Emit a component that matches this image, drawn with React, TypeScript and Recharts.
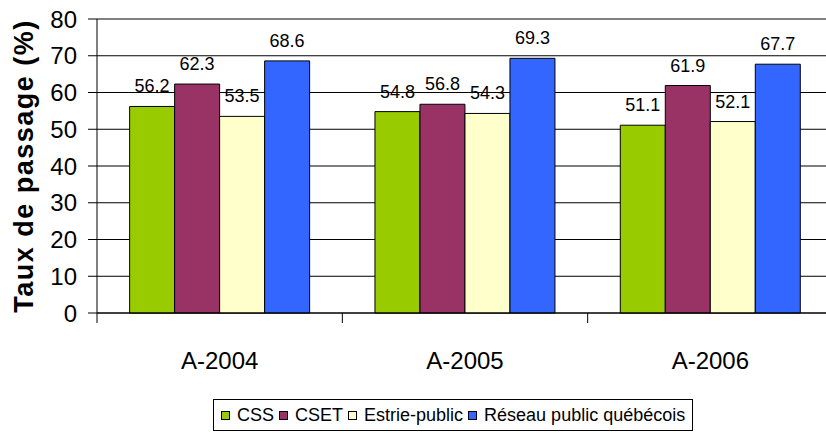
import { BarChart, Bar, XAxis, YAxis, CartesianGrid, ReferenceLine, Legend, LabelList } from "recharts";

const categories = ["A-2004", "A-2005", "A-2006"];
const cssValues = [56.2, 54.8, 51.1];
const csetValues = [62.3, 56.8, 61.9];
const estrieValues = [53.5, 54.3, 52.1];
const reseauValues = [68.6, 69.3, 67.7];
const yTicks = [0, 10, 20, 30, 40, 50, 60, 70, 80];

const series = [
  { key: "css", name: "CSS", color: "#99CC00" },
  { key: "cset", name: "CSET", color: "#993366" },
  { key: "estrie", name: "Estrie-public", color: "#FFFFCC" },
  { key: "reseau", name: "Réseau public québécois", color: "#3366FF" },
];

const data = categories.map((name, i) => ({
  name,
  css: cssValues[i],
  cset: csetValues[i],
  estrie: estrieValues[i],
  reseau: reseauValues[i],
}));

const FONT = "'Liberation Sans', Arial, sans-serif";
const X_TICK_MARGIN = 39;
const BOUNDARY_TICK = 10;

const LegendBox = () => (
  <div
    style={{
      display: "inline-flex",
      alignItems: "center",
      boxSizing: "border-box",
      height: 32,
      border: "1px solid #000",
      padding: "0 7px",
      fontFamily: FONT,
      fontSize: 18,
      color: "#000",
      background: "#fff",
      whiteSpace: "nowrap",
    }}
  >
    {series.map((s, i) => (
      <span key={s.key} style={{ display: "inline-flex", alignItems: "center", marginLeft: i ? 5 : 0 }}>
        <span
          style={{
            width: 7,
            height: 7,
            border: "1px solid #000",
            background: s.color,
            display: "inline-block",
            marginRight: 7,
          }}
        />
        {s.name}
      </span>
    ))}
  </div>
);

const YLabel = ({ viewBox }: any) => {
  const cx = viewBox.x + 24;
  const cy = viewBox.y + viewBox.height / 2;
  return (
    <text
      x={cx}
      y={cy}
      transform={`rotate(-90, ${cx}, ${cy})`}
      textAnchor="middle"
      dominantBaseline="central"
      fontFamily={FONT}
      fontWeight="bold"
      fontSize={27}
      letterSpacing={1.5}
      fill="#000"
    >
      Taux de passage (%)
    </text>
  );
};

// category label plus tick marks on the category boundaries (Excel style)
const CategoryTick = ({ x, y, payload, index, visibleTicksCount }: any) => {
  const half = payload.offset || 0;
  const axisY = y - X_TICK_MARGIN;
  const isLast = index === visibleTicksCount - 1;
  return (
    <g>
      <line x1={x - half} x2={x - half} y1={axisY} y2={axisY + BOUNDARY_TICK} stroke="#000" />
      {isLast && <line x1={x + half} x2={x + half} y1={axisY} y2={axisY + BOUNDARY_TICK} stroke="#000" />}
      <text x={x} y={y} dy="0.71em" textAnchor="middle" fill="#000" fontSize={24} fontFamily={FONT}>
        {payload.value}
      </text>
    </g>
  );
};

export default function App() {
  return (
    <div style={{ position: "absolute", left: 0, top: 0, background: "#fff" }}>
      <BarChart
        width={840}
        height={434}
        data={data}
        margin={{ top: 19, right: 7, left: 0, bottom: 3 }}
        barCategoryGap="13.3%"
        barGap={0}
      >
        <CartesianGrid vertical={false} stroke="#000" strokeWidth={1} />
        <XAxis
          dataKey="name"
          height={86}
          axisLine={{ stroke: "#000" }}
          tickLine={false}
          tickSize={0}
          tickMargin={X_TICK_MARGIN}
          interval={0}
          tick={<CategoryTick />}
        />
        <YAxis
          width={97}
          domain={[0, 80]}
          ticks={yTicks}
          interval={0}
          axisLine={{ stroke: "#000" }}
          tickLine={{ stroke: "#000" }}
          tickSize={9}
          tickMargin={11}
          tick={{ fill: "#000", fontSize: 24, fontFamily: FONT }}
          label={<YLabel />}
        />
        <ReferenceLine y={80} stroke="#808080" strokeWidth={2} />
        {series.map((s) => (
          <Bar
            key={s.key}
            dataKey={s.key}
            name={s.name}
            fill={s.color}
            stroke="#000"
            strokeWidth={1}
            isAnimationActive={false}
          >
            <LabelList
              dataKey={s.key}
              position="top"
              offset={14}
              fill="#000"
              fontSize={18}
              fontFamily={FONT}
            />
          </Bar>
        ))}
        <Legend
          verticalAlign="bottom"
          content={<LegendBox />}
          wrapperStyle={{ left: 213, width: "auto" }}
        />
      </BarChart>
    </div>
  );
}
